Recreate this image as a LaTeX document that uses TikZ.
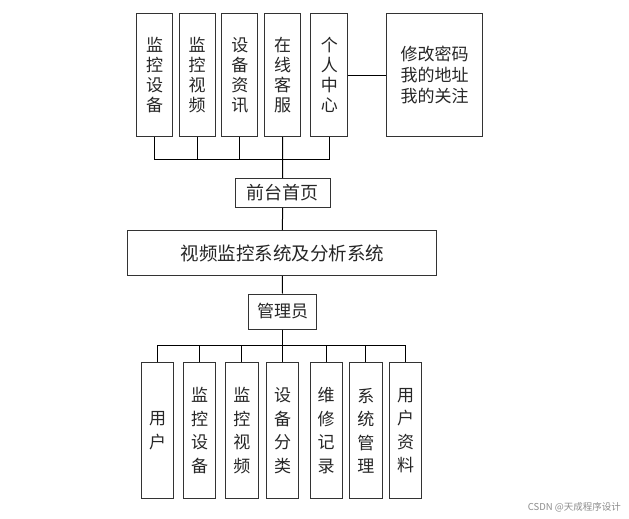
\documentclass[tikz,border=0pt]{standalone}
\usepackage{fontspec}
\newfontfamily\cjk{Noto Sans CJK SC}
\begin{document}
\begin{tikzpicture}[x=1pt,y=-1pt,
  box/.style={draw=black!80, line width=1pt, fill=white, inner sep=0pt, align=center, text=black!85},
  topv/.style={box, minimum width=36pt, minimum height=122.7pt, font=\cjk\fontsize{17}{20}\selectfont},
  botv/.style={box, minimum width=32.4pt, minimum height=136.3pt, font=\cjk\fontsize{17}{23.5}\selectfont},
  wire/.style={line width=1pt, black}]
\useasboundingbox (0,0) rectangle (629,519);
% top row
\node[topv] (t1) at (154.7,75.3) {监\\控\\设\\备};
\node[topv] (t2) at (197.2,75.3) {监\\控\\视\\频};
\node[topv] (t3) at (239.8,75.3) {设\\备\\资\\讯};
\node[topv] (t4) at (282.5,75.3) {在\\线\\客\\服};
\node[topv,minimum width=36.7pt] (t5) at (329.3,75.3) {个\\人\\中\\心};
\node[box,minimum width=95.6pt,minimum height=122.7pt,font=\cjk\fontsize{17}{21}\selectfont] (t6) at (434.5,75.3) {修改密码\\我的地址\\我的关注};
% middle
\node[box,minimum width=95.3pt,minimum height=29pt,font=\cjk\fontsize{18}{20}\selectfont] (front) at (282.7,192.8) {前台首页};
\node[box,minimum width=308.7pt,minimum height=45pt,font=\cjk\fontsize{18.5}{20}\selectfont] (sys) at (282.3,253.2) {视频监控系统及分析系统};
\node[box,minimum width=68.4pt,minimum height=35pt,font=\cjk\fontsize{17}{20}\selectfont] (admin) at (282.5,311.5) {管理员};
% bottom row
\node[botv] (b1) at (157.5,430.8) {用\\户};
\node[botv] (b2) at (199.7,430.8) {监\\控\\设\\备};
\node[botv] (b3) at (241.8,430.8) {监\\控\\视\\频};
\node[botv] (b4) at (282.5,430.8) {设\\备\\分\\类};
\node[botv] (b5) at (326.2,430.8) {维\\修\\记\\录};
\node[botv] (b6) at (365.8,430.8) {系\\统\\管\\理};
\node[botv] (b7) at (405.5,430.8) {用\\户\\资\\料};
% connectors
\coordinate (tb) at (0,159.3);
\coordinate (bb) at (0,345.7);
\draw[wire] (t1.south) -- (t1.south |- tb) -- (t5.south |- tb) -- (t5.south);
\draw[wire] (t2.south) -- (t2.south |- tb);
\draw[wire] (t3.south) -- (t3.south |- tb);
\draw[wire] (t4.south) -- (front.north);
\draw[wire] (t5) -- (t6);
\draw[wire] (front.south) -- (sys.north);
\draw[wire] (sys.south) -- (admin.north);
\draw[wire] (admin.south) -- (admin.south |- bb);
\draw[wire] (b1.north) -- (b1.north |- bb) -- (b7.north |- bb) -- (b7.north);
\foreach \i in {2,...,6} {\draw[wire] (b\i.north) -- (b\i.north |- bb);}
% watermark
\node[font=\cjk\fontsize{9.5}{11}\selectfont, text=black!45, anchor=east, inner sep=0pt] (wm) at (621,507) {CSDN @天成程序设计};
\end{tikzpicture}
\end{document}
